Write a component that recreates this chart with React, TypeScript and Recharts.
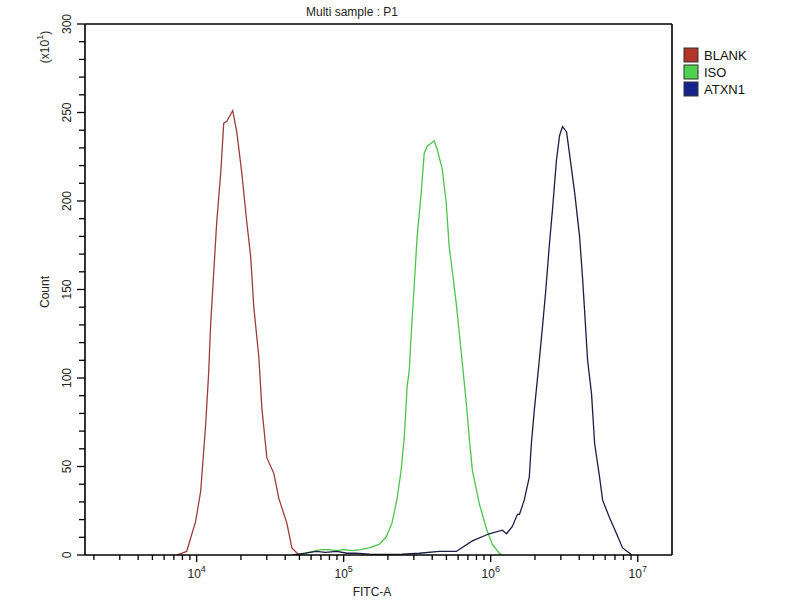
import React from 'react';
import { LineChart, Line, XAxis, YAxis, ReferenceLine } from 'recharts';

// BLANK (red) histogram: FITC-A value, count (x10)
const blankX = [7300, 8550, 9840, 10650, 11520, 12070, 12460, 13050, 13690, 14580, 15280, 16010, 17050, 17590, 18740, 20270, 21930, 23340, 24470, 26470, 27760, 30020, 33500, 36220, 41050, 44430, 49590, 53000];
const blankY = [0, 2, 19, 36, 74, 103, 131, 159, 188, 216, 244, 245, 249, 251, 239, 216, 188, 168, 140, 112, 83, 55, 46, 32, 18, 4, 0, 0];

// ISO (green) histogram
const isoX = [50000, 55000, 62000, 70000, 80000, 90000, 100000, 115000, 130000, 148600, 174000, 194000, 213000, 231000, 246000, 258000, 270000, 279000, 287000, 301000, 316000, 337000, 342000, 353000, 370000, 413000, 433000, 468000, 498000, 522000, 547000, 583000, 631000, 682000, 715000, 750000, 836000, 933000, 1026000, 1145000, 1200000];
const isoY = [0, 1, 2, 3, 3, 2.5, 3, 2.5, 3, 4, 6, 10, 18, 32, 48, 66, 95, 104, 123, 151, 180, 205, 212, 227, 231, 234, 229, 218, 199, 174, 161, 142, 114, 86, 66, 48, 29, 15, 6, 1, 0];

// ATXN1 (navy) histogram
const atxnX = [45000, 55000, 65000, 75000, 90000, 105000, 120000, 150000, 180000, 250000, 326000, 446000, 583000, 750000, 977000, 1200000, 1280000, 1400000, 1520000, 1570000, 1690000, 1830000, 1890000, 1980000, 2140000, 2250000, 2360000, 2510000, 2630000, 2800000, 2940000, 3080000, 3280000, 3430000, 3720000, 4020000, 4210000, 4350000, 4560000, 4850000, 5090000, 5500000, 5770000, 6430000, 7180000, 7890000, 8810000, 9080000];
const atxnY = [0, 1, 2, 1.5, 2, 1, 1, 0.5, 0.3, 0.5, 1, 2, 2, 8, 12, 14, 12, 16, 23, 23, 31, 44, 63, 82, 110, 129, 148, 176, 195, 223, 237, 242, 239, 227, 205, 180, 157, 138, 110, 91, 63, 44, 31, 21, 12, 4, 1, 0];

const seriesNames = ['BLANK', 'ISO', 'ATXN1'];
const lineColors = ['#9a3d3a', '#4cc44c', '#1c1c44'];
const legendColors = ['#b3342a', '#4fd04f', '#14238c'];

const xMajorTicks = [10000, 100000, 1000000, 10000000];
const xTicks = [2000, 3000, 4000, 5000, 6000, 7000, 8000, 9000,
  10000, 20000, 30000, 40000, 50000, 60000, 70000, 80000, 90000,
  100000, 200000, 300000, 400000, 500000, 600000, 700000, 800000, 900000,
  1000000, 2000000, 3000000, 4000000, 5000000, 6000000, 7000000, 8000000, 9000000,
  10000000];
const yTicks = [0, 10, 20, 30, 40, 50, 60, 70, 80, 90, 100, 110, 120, 130, 140, 150, 160, 170, 180, 190, 200, 210, 220, 230, 240, 250, 260, 270, 280, 290, 300];
const xDomain = [1740, 17100000];
const yDomain = [0, 300];

const toRows = (xs: number[], ys: number[]) => xs.map((x, i) => ({ x, y: ys[i] }));
const seriesData = [toRows(blankX, blankY), toRows(isoX, isoY), toRows(atxnX, atxnY)];

const FONT = '"Liberation Sans", Arial, sans-serif';

const XTick = (props: any) => {
  const { x, y, payload } = props;
  const v = payload.value;
  const isMajor = xMajorTicks.includes(v);
  const exp = Math.round(Math.log10(v));
  return (
    <g>
      <line x1={x} x2={x} y1={y} y2={y + (isMajor ? 7 : 5)} stroke="#000" strokeWidth={1.3} />
      {isMajor && (
        <text x={x} y={y + 23} textAnchor="middle" fontFamily={FONT} fontSize={12} fill="#222">
          10<tspan dy={-6} fontSize={9}>{exp}</tspan>
        </text>
      )}
    </g>
  );
};

const YTick = (props: any) => {
  const { x, y, payload } = props;
  const v = payload.value;
  const isMajor = v % 50 === 0;
  const lx = x - 18;
  return (
    <g>
      <line x1={x} x2={x - (isMajor ? 8 : 6)} y1={y} y2={y} stroke="#000" strokeWidth={1.3} />
      {isMajor && (
        <text x={lx} y={y} transform={`rotate(-90, ${lx}, ${y})`} textAnchor="middle" dominantBaseline="central" fontFamily={FONT} fontSize={12} fill="#222">
          {v}
        </text>
      )}
    </g>
  );
};

export default function App() {
  return (
    <div style={{ position: 'absolute', left: 0, top: 0, width: 800, height: 600, background: '#fff' }}>
      <LineChart width={800} height={600} margin={{ top: 24, right: 128, bottom: 0, left: 0 }}>
        <XAxis
          dataKey="x"
          type="number"
          scale="log"
          domain={xDomain}
          allowDataOverflow
          ticks={xTicks}
          interval={0}
          tickSize={0}
          tickMargin={0}
          tick={<XTick />}
          height={45}
          axisLine={{ stroke: '#000', strokeWidth: 1.6 }}
        />
        <YAxis
          type="number"
          domain={yDomain}
          allowDataOverflow
          ticks={yTicks}
          interval={0}
          tickSize={0}
          tickMargin={0}
          tick={<YTick />}
          width={85}
          axisLine={{ stroke: '#000', strokeWidth: 1.6 }}
        />
        <ReferenceLine y={300} stroke="#000" strokeWidth={1.6} />
        <ReferenceLine x={xDomain[1]} stroke="#000" strokeWidth={1.6} />
        {seriesData.map((d, i) => (
          <Line
            key={seriesNames[i]}
            data={d}
            dataKey="y"
            name={seriesNames[i]}
            type="linear"
            stroke={lineColors[i]}
            strokeWidth={1.3}
            dot={false}
            isAnimationActive={false}
          />
        ))}
      </LineChart>
      <svg width={800} height={600} style={{ position: 'absolute', left: 0, top: 0, pointerEvents: 'none' }}>
        <text x={352} y={16} textAnchor="middle" fontFamily={FONT} fontSize={12} fill="#222">Multi sample : P1</text>
        <text x={372} y={596} textAnchor="middle" fontFamily={FONT} fontSize={12} fill="#222">FITC-A</text>
        <text x={45} y={292} transform="rotate(-90, 45, 292)" textAnchor="middle" dominantBaseline="central" fontFamily={FONT} fontSize={12} fill="#222">Count</text>
        <text x={45} y={47} transform="rotate(-90, 45, 47)" textAnchor="middle" dominantBaseline="central" fontFamily={FONT} fontSize={12} fill="#222">
          (x10<tspan dy={-5} fontSize={9}>1</tspan><tspan dy={5}>)</tspan>
        </text>
        {seriesNames.map((n, i) => (
          <g key={n}>
            <rect x={684} y={48 + i * 17} width={14} height={14} fill={legendColors[i]} stroke="#333" strokeWidth={1} />
            <text x={704} y={55 + i * 17} dominantBaseline="central" fontFamily={FONT} fontSize={13} fill="#111">{n}</text>
          </g>
        ))}
      </svg>
    </div>
  );
}
